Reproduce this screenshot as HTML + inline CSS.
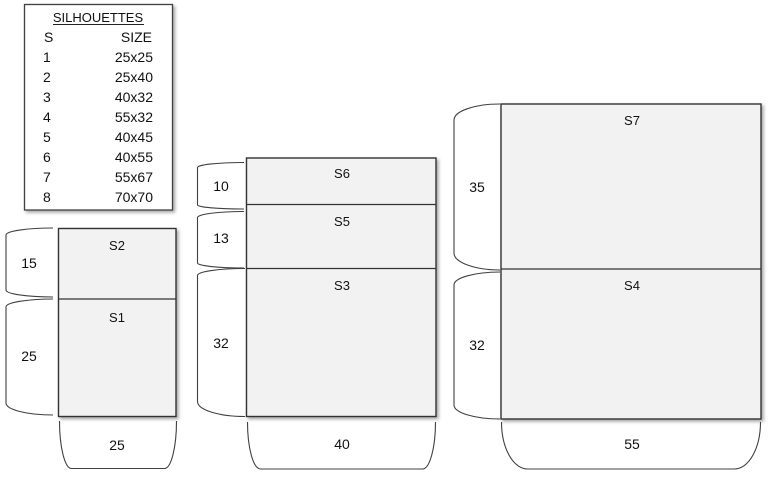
<!DOCTYPE html>
<html>
<head>
<meta charset="utf-8">
<style>
  html,body{margin:0;padding:0;background:#fff;}
  svg{display:block;}
  text{font-family:"Liberation Sans",Arial,sans-serif;fill:#111;}
</style>
</head>
<body>
<svg width="772" height="478" viewBox="0 0 772 478" xmlns="http://www.w3.org/2000/svg">
  <defs>
    <filter id="sh" x="-5%" y="-5%" width="115%" height="115%">
      <feDropShadow dx="2" dy="2" stdDeviation="1.5" flood-color="#000" flood-opacity="0.35"/>
    </filter>
  </defs>

  <!-- Legend -->
  <rect x="24.5" y="4.5" width="148" height="205.5" fill="#fff" stroke="#404040" stroke-width="1.3" filter="url(#sh)"/>
  <text x="98" y="22" font-size="13" text-anchor="middle">SILHOUETTES</text>
  <line x1="53" y1="24.5" x2="144" y2="24.5" stroke="#222" stroke-width="1"/>
  <g font-size="14">
    <text x="44" y="42">S</text><text x="152" y="42" text-anchor="end">SIZE</text>
    <text x="43" y="62">1</text><text x="153" y="62" text-anchor="end">25x25</text>
    <text x="43" y="82">2</text><text x="153" y="82" text-anchor="end">25x40</text>
    <text x="43" y="102">3</text><text x="153" y="102" text-anchor="end">40x32</text>
    <text x="43" y="122">4</text><text x="153" y="122" text-anchor="end">55x32</text>
    <text x="43" y="142">5</text><text x="153" y="142" text-anchor="end">40x45</text>
    <text x="43" y="162">6</text><text x="153" y="162" text-anchor="end">40x55</text>
    <text x="43" y="182">7</text><text x="153" y="182" text-anchor="end">55x67</text>
    <text x="43" y="202">8</text><text x="153" y="202" text-anchor="end">70x70</text>
  </g>

  <!-- Rectangles -->
  <g fill="#f2f2f2" stroke="#333" stroke-width="1.4">
    <rect x="58.5" y="228.5" width="117.5" height="188" filter="url(#sh)"/>
    <rect x="246.5" y="158" width="189.5" height="258.5" filter="url(#sh)"/>
    <rect x="501" y="104" width="260" height="315" filter="url(#sh)"/>
  </g>
  <g stroke="#333" stroke-width="1.3">
    <line x1="58.5" y1="299" x2="176" y2="299"/>
    <line x1="246.5" y1="204.5" x2="436" y2="204.5"/>
    <line x1="246.5" y1="268.5" x2="436" y2="268.5"/>
    <line x1="501" y1="269" x2="761" y2="269"/>
  </g>

  <!-- Brackets -->
  <g fill="none" stroke="#404040" stroke-width="1.1">
    <!-- left brackets: M R T A rx a 0 0 0 L T+a L L B-b A rx b 0 0 0 R B -->
    <path d="M53 228 A47 7 0 0 0 6 235 L6 290 A47 7 0 0 0 53 297"/>
    <path d="M53 299 A47 8 0 0 0 6 307 L6 403 A47 12 0 0 0 53 415"/>
    <path d="M244 162.5 A46.5 5 0 0 0 197.5 167.5 L197.5 205 A46.5 4 0 0 0 244 209"/>
    <path d="M244 211.5 A46.5 6 0 0 0 197.5 217.5 L197.5 263 A46.5 5 0 0 0 244 268"/>
    <path d="M245 268.5 A47.5 7 0 0 0 197.5 275.5 L197.5 401.5 A47.5 15 0 0 0 245 416.5"/>
    <path d="M500 104 A46 16 0 0 0 454 120 L454 253 A46 17 0 0 0 500 270"/>
    <path d="M500 272 A46 13 0 0 0 454 285 L454 405 A46 14 0 0 0 500 419"/>
    <!-- bottom brackets -->
    <path d="M59.5 421 A12 47.5 0 0 0 71.5 468.5 L164.5 468.5 A12 47.5 0 0 0 176.5 421"/>
    <path d="M247.5 422 A13 47 0 0 0 260.5 469 L422.5 469 A13 47 0 0 0 435.5 422"/>
    <path d="M501.5 422 A26 47 0 0 0 527.5 469 L734.5 469 A26 47 0 0 0 760.5 422"/>
  </g>

  <!-- Shape labels -->
  <g font-size="13" text-anchor="middle">
    <text x="117" y="250">S2</text>
    <text x="117" y="322">S1</text>
    <text x="342" y="178">S6</text>
    <text x="342" y="226">S5</text>
    <text x="342" y="290">S3</text>
    <text x="632" y="125">S7</text>
    <text x="632" y="290">S4</text>
  </g>

  <!-- Dimension labels -->
  <g font-size="14" text-anchor="middle">
    <text x="29" y="268">15</text>
    <text x="29" y="361">25</text>
    <text x="117" y="450">25</text>
    <text x="221" y="191">10</text>
    <text x="221" y="243">13</text>
    <text x="221" y="348">32</text>
    <text x="342" y="449">40</text>
    <text x="477" y="192">35</text>
    <text x="477" y="350">32</text>
    <text x="632" y="449">55</text>
  </g>
</svg>
</body>
</html>
